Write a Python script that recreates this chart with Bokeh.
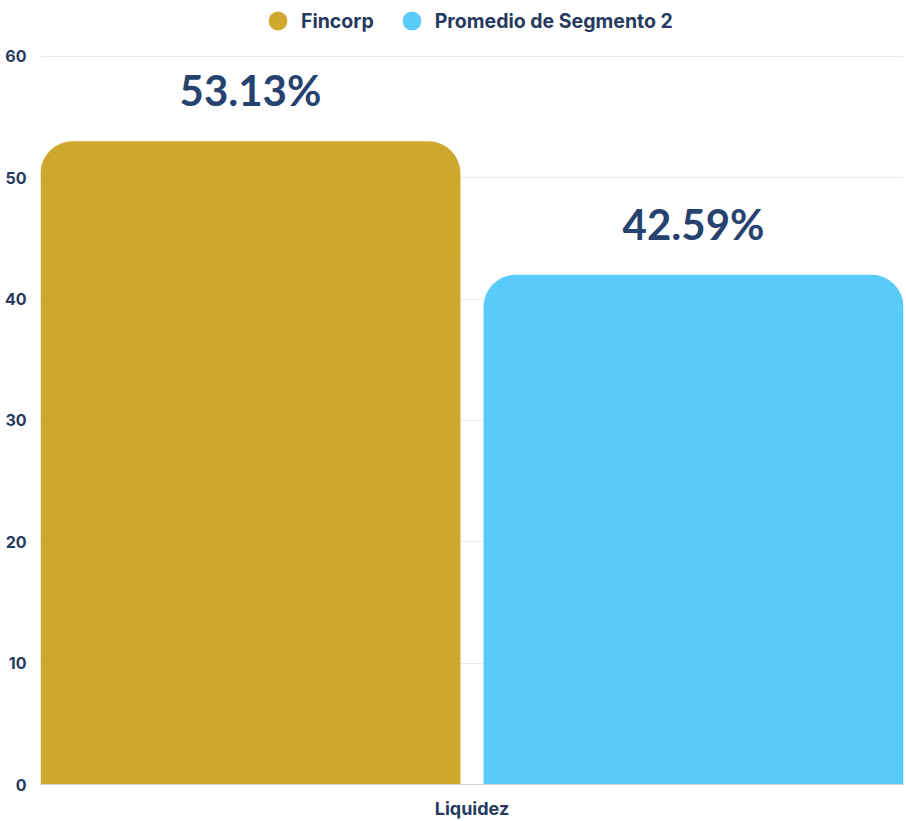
from bokeh.plotting import figure
from bokeh.models import ColumnDataSource, FactorRange, Range1d, Legend, LegendItem
from bokeh.transform import dodge
from bokeh.core.properties import value
from bokeh.embed import file_html
from bokeh.resources import INLINE

category = ["Liquidez"]
series_names = ["Fincorp", "Promedio de Segmento 2"]
bar_values = [53.0, 42.0]
bar_labels = ["53.13%", "42.59%"]
colors = ["#CFA82E", "#58CBFB"]
y_ticks = [0, 10, 20, 30, 40, 50, 60]

TEXT = "#253a5e"
FONT = "Inter"

p = figure(width=906, height=821, x_range=FactorRange(*category, range_padding=0),
           y_range=Range1d(0, 64.6), output_backend="svg", toolbar_location=None,
           min_border_left=40, min_border_right=3, min_border_top=0, min_border_bottom=34)
p.outline_line_color = None

offsets = [-0.2567, 0.2567]
renderers = []
for i, name in enumerate(series_names):
    src = ColumnDataSource(dict(cat=category, val=[bar_values[i]], lab=[bar_labels[i]]))
    p.vbar(x=dodge("cat", offsets[i], range=p.x_range), top="val", width=0.4867,
           source=src, fill_color=colors[i], line_color=None, border_radius=(32, 32, 0, 0))
    p.text(x=dodge("cat", offsets[i], range=p.x_range), y="val", text="lab", source=src,
           text_align="center", text_baseline="alphabetic", y_offset=-51,
           text_font=value("Lato"), text_font_style="bold", text_font_size="42px",
           text_color="#26426e")
    r = p.scatter(x=category, y=[-100], marker="circle", size=19,
                  fill_color=colors[i], line_color=None)
    renderers.append(r)

legend = Legend(items=[LegendItem(label=n, renderers=[r]) for n, r in zip(series_names, renderers)],
                orientation="horizontal", location=(214, 740), margin=0, padding=0,
                spacing=14, glyph_width=47, glyph_height=47, label_standoff=-6,
                label_text_font=FONT, label_text_font_style="bold", label_text_font_size="19.5px",
                label_text_color=TEXT, border_line_color=None, background_fill_alpha=0)
p.add_layout(legend)

p.yaxis.ticker = y_ticks
p.yaxis.axis_line_color = None
p.yaxis.major_tick_line_color = None
p.yaxis.minor_tick_line_color = None
p.yaxis.major_label_standoff = 8
p.yaxis.major_label_text_font = FONT
p.yaxis.major_label_text_font_style = "bold"
p.yaxis.major_label_text_font_size = "16px"
p.yaxis.major_label_text_color = TEXT

p.xaxis.axis_line_color = "#d6d6d6"
p.xaxis.major_tick_line_color = None
p.xaxis.minor_tick_line_color = None
p.xaxis.major_label_standoff = 7
p.xaxis.major_label_text_font = FONT
p.xaxis.major_label_text_font_style = "bold"
p.xaxis.major_label_text_font_size = "18px"
p.xaxis.major_label_text_color = TEXT

p.xgrid.grid_line_color = None
p.ygrid.grid_line_color = "#ebebeb"

open("out.html", "w").write(file_html(p, INLINE))
